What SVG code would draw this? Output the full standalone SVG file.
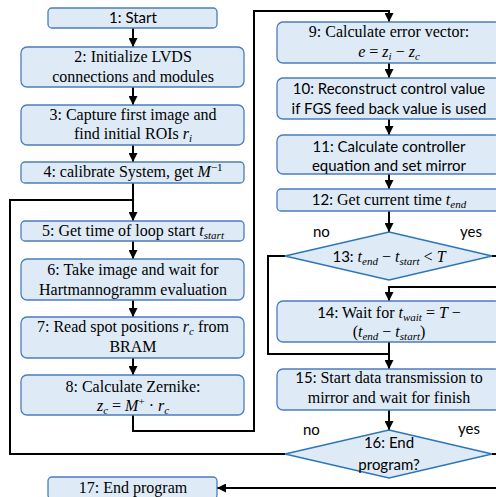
<svg xmlns="http://www.w3.org/2000/svg" width="496" height="497" viewBox="0 0 496 497">
<style>
.box{fill:#DEEBF7;stroke:#4A7EBB;stroke-width:1.3}
.dia{fill:#DEEBF7;stroke:#2E75B6;stroke-width:1.5}
.t{font-family:'Liberation Serif','Times New Roman','DejaVu Serif',serif;font-size:16px;fill:#000;text-anchor:middle}
.s{font-family:Lato,'Liberation Sans',sans-serif;font-size:15px}
.lbl{font-family:Lato,'Liberation Sans',sans-serif;font-size:15px;fill:#000}
.m{font-style:italic}
.sb{font-size:11px}
.ln{fill:none;stroke:#000;stroke-width:2}
</style>
<defs>
<marker id="ar" viewBox="0 0 10 10" refX="10" refY="5" markerWidth="4.5" markerHeight="4.5" orient="auto" markerUnits="strokeWidth">
<path d="M0,0 L10,5 L0,10 z" fill="#000"/>
</marker>
</defs>
<rect width="496" height="497" fill="#fff"/>
<g id="connectors">
<path class="ln" d="M133,28 V47" marker-end="url(#ar)"/>
<path class="ln" d="M133,87 V105" marker-end="url(#ar)"/>
<path class="ln" d="M133,145 V162" marker-end="url(#ar)"/>
<path class="ln" d="M133,183 V221" marker-end="url(#ar)"/>
<path class="ln" d="M285,454 H10 V200 H133"/>
<path class="ln" d="M133,241 V259" marker-end="url(#ar)"/>
<path class="ln" d="M133,300 V317" marker-end="url(#ar)"/>
<path class="ln" d="M133,358 V375" marker-end="url(#ar)"/>
<path class="ln" d="M133,415 V431 H254 V11 H389 V22" marker-end="url(#ar)"/>
<path class="ln" d="M389,63 V78" marker-end="url(#ar)"/>
<path class="ln" d="M389,119 V135" marker-end="url(#ar)"/>
<path class="ln" d="M389,174 V189" marker-end="url(#ar)"/>
<path class="ln" d="M389,211 V232" marker-end="url(#ar)"/>
<path class="ln" d="M285,256 H268 V354 H389"/>
<path class="ln" d="M492,256 H505 V287 H389 V301" marker-end="url(#ar)"/>
<path class="ln" d="M389,342 V369" marker-end="url(#ar)"/>
<path class="ln" d="M389,410 V430" marker-end="url(#ar)"/>
<path class="ln" d="M492,454 H505 V488 H217" marker-end="url(#ar)"/>
</g>
<g id="n1"><rect class="box" x="48" y="8" width="169" height="20" rx="4"/><text class="t s" x="133" y="23">1: Start</text></g>
<g id="n2"><rect class="box" x="21" y="47" width="223" height="40" rx="6"/><text class="t" x="133" y="62">2: Initialize LVDS</text><text class="t" x="133" y="82">connections and modules</text></g>
<g id="n3"><rect class="box" x="21" y="105" width="223" height="40" rx="6"/><text class="t" x="133" y="120">3: Capture first image and</text><text class="t" x="133" y="139">find initial ROIs <tspan class="m">r</tspan><tspan class="m sb" dy="3">i</tspan></text></g>
<g id="n4"><rect class="box" x="21" y="162" width="223" height="21" rx="4"/><text class="t" x="133" y="177">4: calibrate System, get <tspan class="m">M</tspan><tspan class="sb" dy="-6">−1</tspan></text></g>
<g id="n5"><rect class="box" x="21" y="221" width="223" height="20" rx="4"/><text class="t" x="133" y="236">5: Get time of loop start <tspan class="m">t</tspan><tspan class="m sb" dy="3">start</tspan></text></g>
<g id="n6"><rect class="box" x="21" y="259" width="223" height="41" rx="6"/><text class="t" x="133" y="275">6: Take image and wait for</text><text class="t" x="133" y="295">Hartmannogramm evaluation</text></g>
<g id="n7"><rect class="box" x="21" y="317" width="223" height="41" rx="6"/><text class="t" x="133" y="332">7: Read spot positions <tspan class="m">r</tspan><tspan class="m sb" dy="3">c</tspan><tspan dy="-3"> from</tspan></text><text class="t" x="133" y="352">BRAM</text></g>
<g id="n8"><rect class="box" x="21" y="375" width="223" height="40" rx="6"/><text class="t" x="133" y="392">8: Calculate Zernike:</text><text class="t" x="133" y="411"><tspan class="m">z</tspan><tspan class="m sb" dy="3">c</tspan><tspan dy="-3"> = </tspan><tspan class="m">M</tspan><tspan class="sb" dy="-6">+</tspan><tspan dy="6"> · </tspan><tspan class="m">r</tspan><tspan class="m sb" dy="3">c</tspan></text></g>
<g id="n9"><rect class="box" x="277" y="22" width="224" height="41" rx="6"/><text class="t" x="389" y="37">9: Calculate error vector:</text><text class="t" x="389" y="57"><tspan class="m">e</tspan> = <tspan class="m">z</tspan><tspan class="m sb" dy="3">i</tspan><tspan dy="-3"> − </tspan><tspan class="m">z</tspan><tspan class="m sb" dy="3">c</tspan></text></g>
<g id="n10"><rect class="box" x="277" y="78" width="224" height="41" rx="6"/><text class="t s" x="389" y="94">10: Reconstruct control value</text><text class="t s" x="389" y="114">if FGS feed back value is used</text></g>
<g id="n11"><rect class="box" x="277" y="135" width="224" height="39" rx="6"/><text class="t s" x="389" y="152">11: Calculate controller</text><text class="t s" x="389" y="171">equation and set mirror</text></g>
<g id="n12"><rect class="box" x="277" y="189" width="224" height="22" rx="4"/><text class="t" x="389" y="205"><tspan class="s">12:</tspan> Get current time <tspan class="m">t</tspan><tspan class="m sb" dy="3">end</tspan></text></g>
<g id="n13"><polygon class="dia" points="389,232 492,256 389,280 285,256"/><text class="t" x="389" y="262"><tspan class="s">13:</tspan> <tspan class="m">t</tspan><tspan class="m sb" dy="3">end</tspan><tspan dy="-3"> − </tspan><tspan class="m">t</tspan><tspan class="m sb" dy="3">start</tspan><tspan dy="-3"> &lt; </tspan><tspan class="m">T</tspan></text></g>
<g id="n14"><rect class="box" x="277" y="301" width="224" height="41" rx="6"/><text class="t" x="389" y="318"><tspan class="s">14:</tspan> Wait for <tspan class="m">t</tspan><tspan class="m sb" dy="3">wait</tspan><tspan dy="-3"> = </tspan><tspan class="m">T</tspan> −</text><text class="t" x="389" y="337">(<tspan class="m">t</tspan><tspan class="m sb" dy="3">end</tspan><tspan dy="-3"> − </tspan><tspan class="m">t</tspan><tspan class="m sb" dy="3">start</tspan><tspan dy="-3">)</tspan></text></g>
<g id="n15"><rect class="box" x="277" y="369" width="224" height="41" rx="6"/><text class="t" x="389" y="383"><tspan class="s">15:</tspan> Start data transmission to</text><text class="t" x="389" y="403">mirror and wait for finish</text></g>
<g id="n16"><polygon class="dia" points="389,430 492,454 389,478 285,454"/><text class="t s" x="389" y="448">16: End</text><text class="t s" x="389" y="470">program?</text></g>
<g id="n17"><rect class="box" x="48" y="477" width="169" height="22" rx="4"/><text class="t" x="133" y="493">17: End program</text></g>
<g id="labels">
<text class="lbl" x="313" y="237">no</text>
<text class="lbl" x="460" y="237">yes</text>
<text class="lbl" x="303" y="435">no</text>
<text class="lbl" x="458" y="434">yes</text>
</g>
</svg>
